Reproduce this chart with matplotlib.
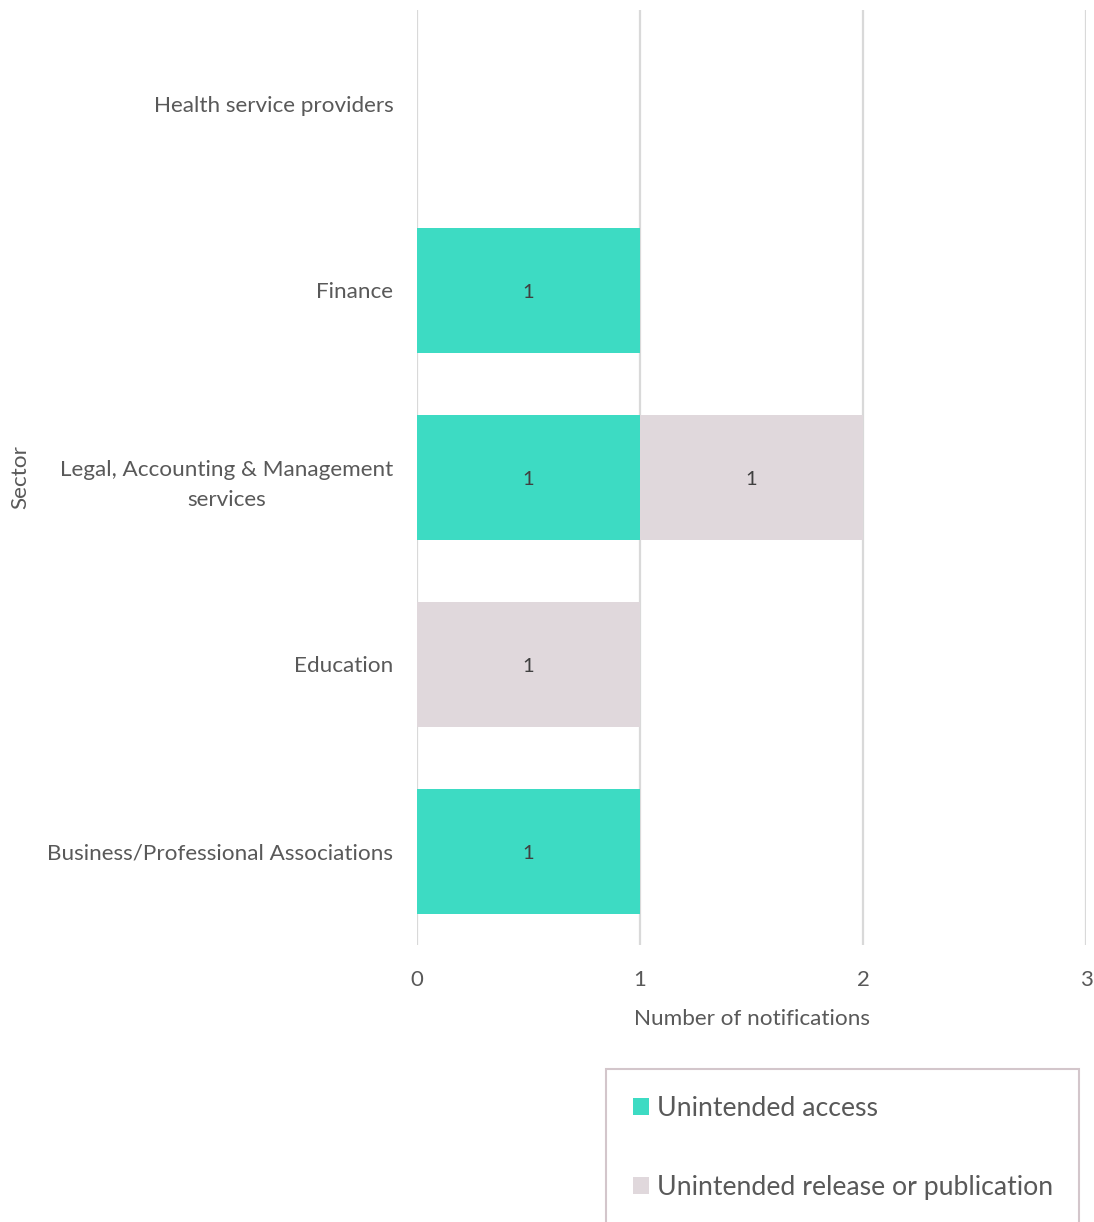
import matplotlib
matplotlib.use("Agg")
import matplotlib.pyplot as plt
from matplotlib.patches import Patch

plt.rcParams['font.family'] = ['Lato', 'DejaVu Sans']

categories = ["Health service providers", "Finance",
              "Legal, Accounting & Management\nservices", "Education",
              "Business/Professional Associations"]
unintended_access = [0, 1, 1, 0, 1]
unintended_release = [0, 0, 1, 1, 0]
series_names = ["Unintended access", "Unintended release or publication"]
colors = ["#3ddbc3", "#e0d8dc"]
xticks = [0, 1, 2, 3]

W, H = 1094, 1222
fig = plt.figure(figsize=(W / 100, H / 100), dpi=100)
ax = fig.add_axes([417 / W, 1 - 945 / H, (1086 - 417) / W, (945 - 10) / H])

txt = "#595959"
ypos = list(range(len(categories)))
left = [0] * len(categories)
for vals, col, name in zip([unintended_access, unintended_release], colors, series_names):
    bars = ax.barh(ypos, vals, left=left, height=0.667, color=col, label=name, zorder=2)
    for b, v in zip(bars, vals):
        if v > 0:
            ax.text(b.get_x() + b.get_width() / 2, b.get_y() + b.get_height() / 2 + 0.01,
                    str(v), ha='center', va='center', fontsize=14.5, color="#404040", zorder=3)
    left = [l + v for l, v in zip(left, vals)]

ax.set_xlim(0, 3)
ax.set_ylim(len(categories) - 0.5, -0.5)
ax.set_xticks(xticks)
ax.set_xticklabels([str(t) for t in xticks])
ax.set_yticks(ypos)
ax.set_yticklabels(categories)
for lab in ax.get_yticklabels():
    lab.set_multialignment('center')
    lab.set_linespacing(1.65)
ax.tick_params(axis='y', length=0, pad=17, labelsize=16.2, labelcolor=txt)
ax.tick_params(axis='x', length=0, pad=18, labelsize=16, labelcolor=txt)
ax.grid(axis='x', color='#d9d9d9', linewidth=1.6, zorder=0)
for s in ax.spines.values():
    s.set_visible(False)

ax.set_xlabel("Number of notifications", fontsize=16.2, color=txt, labelpad=14)
ax.set_ylabel("Sector", fontsize=16.2, color=txt)
ax.yaxis.set_label_coords((30 - 417) / (1086 - 417), 0.5)

handles = [Patch(facecolor=c, edgecolor='none') for c in colors]
leg = fig.legend(handles, series_names, loc='upper left',
                 bbox_to_anchor=(606 / W, 1 - 1069 / H),
                 fontsize=19.2, frameon=True, fancybox=False,
                 edgecolor='#c9b8be', labelspacing=2.05, borderpad=1.0,
                 handlelength=0.6, handleheight=0.6, handletextpad=0.3,
                 borderaxespad=0)
leg.get_frame().set_linewidth(1.5)
for t in leg.get_texts():
    t.set_color(txt)

fig.savefig("out.png", dpi=100)
